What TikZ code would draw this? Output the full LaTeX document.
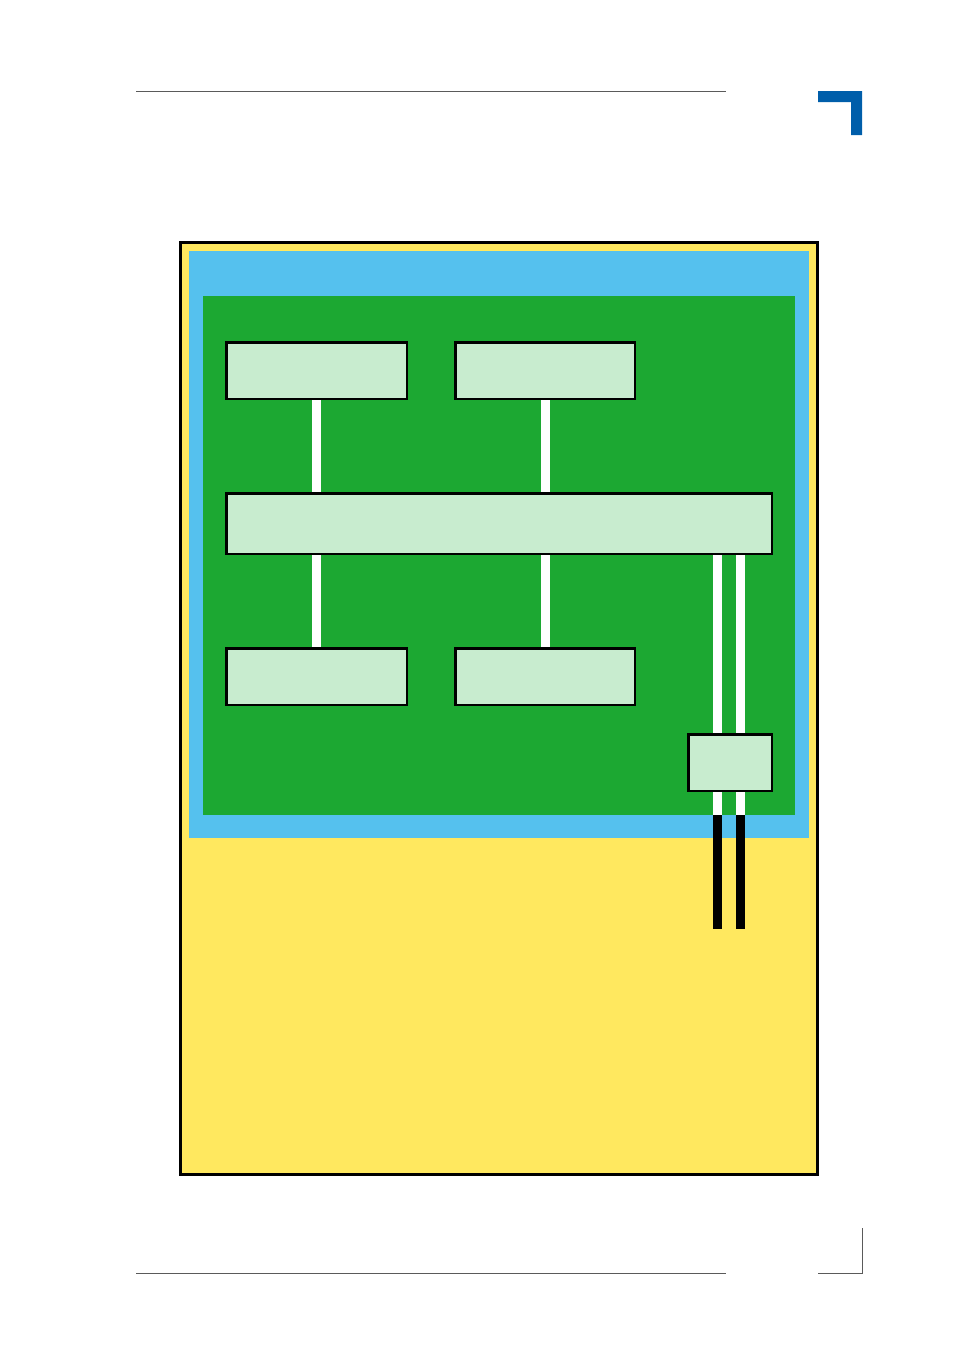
\documentclass[tikz,border=0pt]{standalone}
\usetikzlibrary{calc}
\definecolor{frameyellow}{RGB}{255,232,95}
\definecolor{boardblue}{RGB}{85,193,238}
\definecolor{boardgreen}{RGB}{28,168,50}
\definecolor{boxgreen}{RGB}{200,236,207}
\definecolor{markblue}{RGB}{0,94,170}
\definecolor{rulegray}{RGB}{90,90,90}
\begin{document}
\begin{tikzpicture}[x=1pt,y=-1pt,
  blockbox/.style={draw=black,line width=2.5pt,fill=boxgreen,inner sep=0pt,outer sep=0pt,anchor=north west},
  wire/.style={draw=white,line width=9pt},
  cable/.style={draw=black,line width=9pt},
  pagerule/.style={draw=rulegray,line width=0.8pt}]
\useasboundingbox (0,0) rectangle (954,1350);
% page furniture
\draw[pagerule] (136,91) -- (726,91);
\draw[pagerule] (136,1273) -- (726,1273);
\fill[markblue] (818,91) -- (862,91) -- (862,135) -- (851,135) -- (851,102) -- (818,102) -- cycle;
\draw[pagerule] (862,1228) -- (862,1273) -- (818,1273);
% frame
\node[draw=black,line width=2.8pt,fill=frameyellow,inner sep=0pt,outer sep=0pt,anchor=north west,minimum width=637pt,minimum height=932pt] (frame) at (180.4,242.4) {};
\node[fill=boardblue,inner sep=0pt,outer sep=0pt,anchor=north west,minimum width=620pt,minimum height=587pt] (board) at (189,251) {};
\node[fill=boardgreen,inner sep=0pt,outer sep=0pt,anchor=north west,minimum width=592pt,minimum height=519pt] (pcb) at (203,296) {};
% connector end points
\coordinate (ca) at (717.5,555);
\coordinate (cb) at (740.5,555);
\coordinate (ca2) at (717.5,815);
\coordinate (cb2) at (740.5,815);
\coordinate (ca3) at (717.5,929);
\coordinate (cb3) at (740.5,929);
% boxes
\node[blockbox,minimum width=180.5pt,minimum height=56.5pt] (tl) at (226.25,342.25) {};
\node[blockbox,minimum width=179.5pt,minimum height=56.5pt] (tr) at (455.25,342.25) {};
\node[blockbox,minimum width=545.5pt,minimum height=60.5pt] (bus) at (226.25,493.25) {};
\node[blockbox,minimum width=180.5pt,minimum height=56.5pt] (bl) at (226.25,648.25) {};
\node[blockbox,minimum width=179.5pt,minimum height=56.5pt] (br) at (455.25,648.25) {};
\node[blockbox,minimum width=83.5pt,minimum height=56.5pt] (io) at (688.25,734.25) {};
% connectors
\draw[wire] (tl.south) -- (tl.south |- bus.north);
\draw[wire] (tr.south) -- (tr.south |- bus.north);
\draw[wire] (bl.north |- bus.south) -- (bl.north);
\draw[wire] (br.north |- bus.south) -- (br.north);
\draw[wire] (ca |- bus.south) -- (ca |- io.north);
\draw[wire] (cb |- bus.south) -- (cb |- io.north);
\draw[wire] (ca |- io.south) -- (ca2);
\draw[wire] (cb |- io.south) -- (cb2);
\draw[cable] (ca2) -- (ca3);
\draw[cable] (cb2) -- (cb3);
% box borders on top of wire ends
\foreach \n in {tl,tr,bus,bl,br,io}{\draw[black,line width=2.5pt] (\n.north west) rectangle (\n.south east);}
\end{tikzpicture}
\end{document}
